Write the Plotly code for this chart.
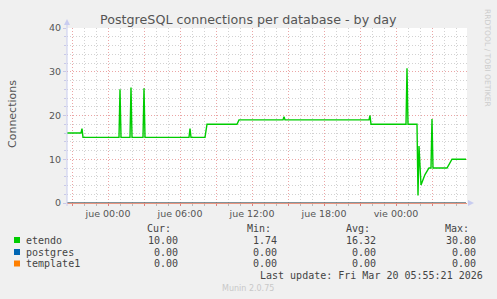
import plotly.graph_objects as go

# ---- data ----
times = [
    "2026-03-18 20:35", "2026-03-18 21:45", "2026-03-18 21:50", "2026-03-18 21:55",
    "2026-03-19 00:55", "2026-03-19 01:00", "2026-03-19 01:05",
    "2026-03-19 01:50", "2026-03-19 01:55", "2026-03-19 02:00",
    "2026-03-19 02:55", "2026-03-19 03:00", "2026-03-19 03:05",
    "2026-03-19 06:45", "2026-03-19 06:50", "2026-03-19 06:55",
    "2026-03-19 08:05", "2026-03-19 08:15",
    "2026-03-19 10:45", "2026-03-19 10:55",
    "2026-03-19 14:35", "2026-03-19 14:40", "2026-03-19 14:45",
    "2026-03-19 21:45", "2026-03-19 21:50", "2026-03-19 21:55",
    "2026-03-20 00:50", "2026-03-20 00:55", "2026-03-20 01:00",
    "2026-03-20 01:45", "2026-03-20 01:50", "2026-03-20 01:55", "2026-03-20 02:05",
    "2026-03-20 02:25", "2026-03-20 02:45", "2026-03-20 02:55", "2026-03-20 03:00",
    "2026-03-20 03:05", "2026-03-20 04:15", "2026-03-20 04:40", "2026-03-20 05:50",
]
etendo = [
    16, 16, 17, 15,
    15, 26, 15,
    15, 26.4, 15,
    15, 26.2, 15,
    15, 17, 15,
    15, 18,
    18, 19,
    19, 19.7, 19,
    19, 20, 18,
    18, 30.8, 18,
    18, 1.74, 13, 4.1,
    6.5, 8, 8, 19.2,
    8, 8, 10, 10,
]
postgres = [0 for _ in times]
template1 = [0 for _ in times]

series_names = ["etendo", "postgres", "template1"]
series_colors = ["#00CC00", "#0066B3", "#FF8000"]
stat_cur = ["10.00", "0.00", "0.00"]
stat_min = ["1.74", "0.00", "0.00"]
stat_avg = ["16.32", "0.00", "0.00"]
stat_max = ["30.80", "0.00", "0.00"]

x_start = "2026-03-18 20:35"
x_end = "2026-03-20 05:55"
major_ticks = ["2026-03-18 21:00", "2026-03-19 00:00", "2026-03-19 03:00", "2026-03-19 06:00",
               "2026-03-19 09:00", "2026-03-19 12:00", "2026-03-19 15:00", "2026-03-19 18:00",
               "2026-03-19 21:00", "2026-03-20 00:00", "2026-03-20 03:00"]
major_labels = ["", "jue 00:00", "", "jue 06:00", "", "jue 12:00", "", "jue 18:00", "",
                "vie 00:00", ""]
y_ticks = [0, 10, 20, 30, 40]

# ---- layout geometry (pixels) ----
W, H = 497, 299
L, R, T, B = 67, 30, 28, 96
PW, PH = W - L - R, H - T - B


def px(x):
    return (x - L) / PW


def py(y):
    return (H - B - y) / PH


SANS = "DejaVu Sans"
MONO = "DejaVu Sans Mono"
TXT = "#555555"
MGRID = "#EBA5A5"
GRID = "#D2D2D2"

fig = go.Figure()
fig.add_trace(go.Scatter(x=times, y=template1, mode="lines",
                         line=dict(color=series_colors[2], width=1), hoverinfo="skip"))
fig.add_trace(go.Scatter(x=times, y=postgres, mode="lines",
                         line=dict(color=series_colors[1], width=1), hoverinfo="skip"))
fig.add_trace(go.Scatter(x=times, y=etendo, mode="lines",
                         line=dict(color=series_colors[0], width=1.4), hoverinfo="skip"))

fig.update_layout(
    width=W, height=H,
    margin=dict(l=L, r=R, t=T, b=B, pad=0),
    paper_bgcolor="#F0F0F0", plot_bgcolor="#FFFFFF",
    showlegend=False,
    font=dict(family=SANS, size=9.5, color=TXT),
)
fig.update_xaxes(
    type="date", range=[x_start, x_end],
    tickmode="array", tickvals=major_ticks, ticktext=major_labels,
    showgrid=True, gridcolor=MGRID, griddash="1px,2px", gridwidth=1,
    ticks="outside", ticklen=2, tickcolor="#E08080",
    showline=True, linecolor="#E89580", linewidth=1,
    zeroline=False,
    tickfont=dict(family=SANS, size=9.5, color=TXT),
    minor=dict(dtick=3600000, tick0="2026-03-18 00:00", showgrid=True,
               gridcolor=GRID, griddash="1px,2px", ticks="outside", ticklen=2,
               tickcolor="#BBBBBB"),
)
fig.update_yaxes(
    range=[0, 40], tickmode="array", tickvals=y_ticks,
    showgrid=True, gridcolor=MGRID, griddash="1px,2px", gridwidth=1,
    ticks="outside", ticklen=3, tickcolor="#C8C8E8",
    showline=False, zeroline=False,
    tickfont=dict(family=SANS, size=9.5, color=TXT),
    minor=dict(dtick=2, showgrid=True, gridcolor=GRID, griddash="1px,2px",
               ticks="outside", ticklen=2, tickcolor="#C8C8E8"),
)

shapes = []
# left axis line + arrow
shapes.append(dict(type="line", xref="paper", yref="paper", x0=px(67), x1=px(67),
                   y0=py(206), y1=py(22), line=dict(color="#C8CCF0", width=1)))
shapes.append(dict(type="path", xref="paper", yref="paper",
                   path=f"M {px(64)} {py(25)} L {px(70)} {py(25)} L {px(67)} {py(19)} Z",
                   fillcolor="#C8CCF0", line=dict(width=0)))
# bottom arrow
shapes.append(dict(type="path", xref="paper", yref="paper",
                   path=f"M {px(468)} {py(200)} L {px(468)} {py(206)} L {px(474)} {py(203)} Z",
                   fillcolor="#C8CCF0", line=dict(width=0)))
# legend squares
rows_y = [240, 252, 263.5]
for c, ry in zip(series_colors, rows_y):
    shapes.append(dict(type="rect", xref="paper", yref="paper",
                       x0=px(14), x1=px(20), y0=py(ry - 3), y1=py(ry + 3),
                       fillcolor=c, line=dict(width=0)))
fig.update_layout(shapes=shapes)

ann = []
ann.append(dict(text="PostgreSQL connections per database - by day", xref="paper", yref="paper",
                x=px(248), y=py(19), showarrow=False, xanchor="center", yanchor="middle",
                font=dict(family=SANS, size=12.7, color="#555555")))
ann.append(dict(text="Connections", xref="paper", yref="paper", x=px(12), y=py(114),
                showarrow=False, textangle=-90, xanchor="center", yanchor="middle",
                font=dict(family=SANS, size=11, color=TXT)))
ann.append(dict(text="RRDTOOL / TOBI OETIKER", xref="paper", yref="paper", x=px(487), y=py(58),
                showarrow=False, textangle=90, xanchor="center", yanchor="middle",
                font=dict(family=SANS, size=7.6, color="#CCCCCC")))

hdr_x = [172, 272, 371, 470]
val_x = [179, 278, 377, 477]
for h, hx in zip(["Cur:", "Min:", "Avg:", "Max:"], hdr_x):
    ann.append(dict(text=h, xref="paper", yref="paper", x=px(hx), y=py(228),
                    showarrow=False, xanchor="right", yanchor="middle",
                    font=dict(family=MONO, size=10, color="#444444")))
for i, name in enumerate(series_names):
    ann.append(dict(text=name, xref="paper", yref="paper", x=px(25), y=py(rows_y[i]),
                    showarrow=False, xanchor="left", yanchor="middle",
                    font=dict(family=MONO, size=10, color="#444444")))
    for vals, vx in zip([stat_cur, stat_min, stat_avg, stat_max], val_x):
        ann.append(dict(text=vals[i], xref="paper", yref="paper", x=px(vx), y=py(rows_y[i]),
                        showarrow=False, xanchor="right", yanchor="middle",
                        font=dict(family=MONO, size=10, color="#444444")))
ann.append(dict(text="Last update: Fri Mar 20 05:55:21 2026", xref="paper", yref="paper",
                x=px(484), y=py(275.5), showarrow=False, xanchor="right", yanchor="middle",
                font=dict(family=MONO, size=10, color="#444444")))
ann.append(dict(text="Munin 2.0.75", xref="paper", yref="paper", x=px(248), y=py(288),
                showarrow=False, xanchor="center", yanchor="middle",
                font=dict(family=SANS, size=8, color="#C8C8C8")))
for a in ann:
    a["borderpad"] = 0
fig.update_layout(annotations=ann)

fig.write_html("out.html")
